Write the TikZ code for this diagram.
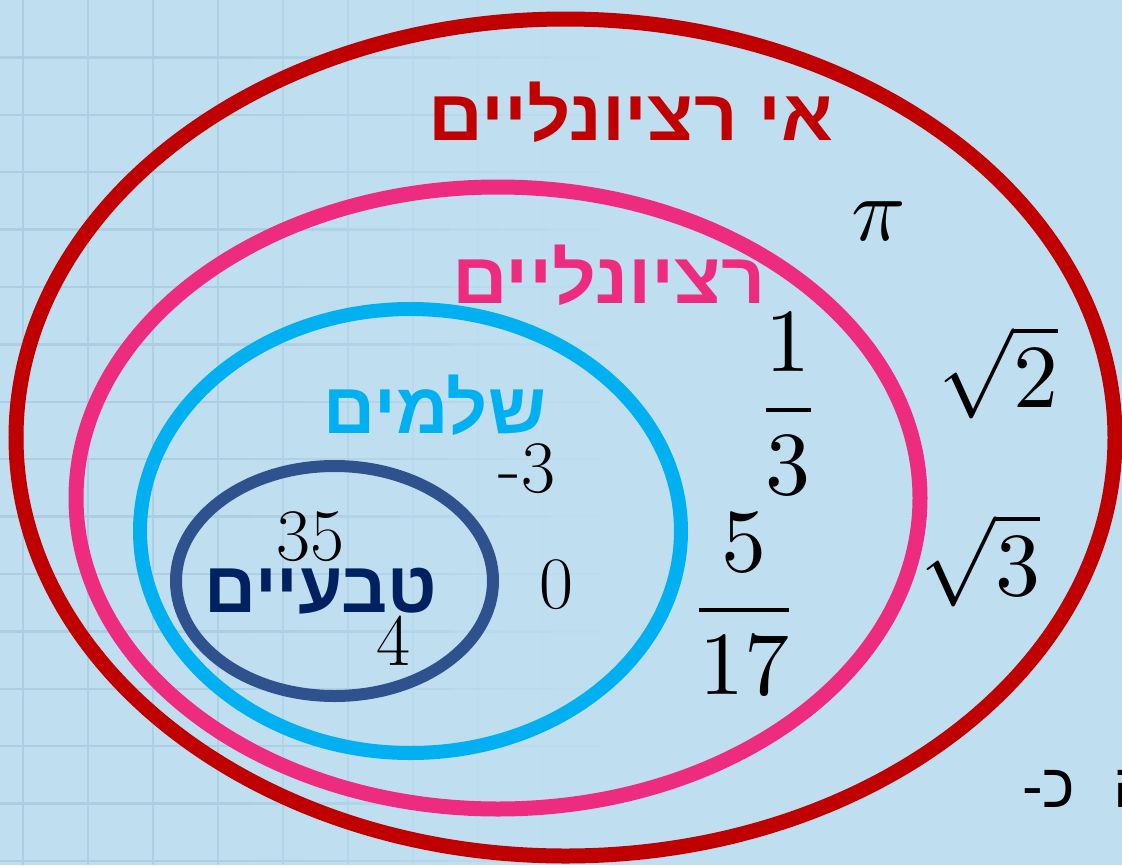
\documentclass[tikz,border=0pt]{standalone}
\usepackage{fontspec}
\newfontfamily\hebbold[Script=Hebrew]{Liberation Sans}
\newfontfamily\hebsans[Script=Hebrew]{Liberation Sans}
\TeXXeTstate=1

\definecolor{bgblue}{RGB}{191,223,241}
\definecolor{gridblue}{RGB}{171,206,227}
\definecolor{irred}{RGB}{192,0,0}
\definecolor{ratpink}{RGB}{238,44,127}
\definecolor{intcyan}{RGB}{0,176,240}
\definecolor{natblue}{RGB}{47,82,143}
\definecolor{natnavy}{RGB}{0,32,96}

\tikzset{
  setline/.style={line width=#1},
  setname/.style={font=\hebbold\bfseries\fontsize{72}{74}\selectfont, inner sep=0pt, anchor=base},
  num/.style={font=\fontsize{74}{80}\selectfont, inner sep=0pt, anchor=base},
  mathnum/.style={scale=9, inner sep=0pt, anchor=base},
}

\begin{document}
\begin{tikzpicture}[x=1pt,y=-1pt]
\useasboundingbox (0,0) rectangle (1122,865);
\clip (0,0) rectangle (1122,865);
\fill[bgblue] (0,0) rectangle (1122,865);

% faint grid, fading to the right
\foreach \k/\p in {0/100,1/95,2/90,3/80,4/65,5/50,6/30,7/15,8/5}
  \draw[gridblue!\p!bgblue, line width=2.5] (23+65*\k,0) -- (23+65*\k,865);
\foreach \j in {1,...,15}
  \foreach \s in {0,...,15} {
    \pgfmathtruncatemacro{\p}{max(0,min(100,100-(50*\s-200)/4))}
    \draw[gridblue!\p!bgblue, line width=2.5] (50*\s,57.4*\j) -- (50*\s+50,57.4*\j);
  }

% the four sets
\draw[irred, setline=15] (565.5,437.5) ellipse [x radius=549.5pt, y radius=418.5pt];
\draw[ratpink, setline=15] (498,498) ellipse [x radius=422pt, y radius=311pt];
\draw[intcyan, setline=14] (410.5,531) ellipse [x radius=270.5pt, y radius=222pt];
\draw[natblue, setline=12] (334.5,581) ellipse [x radius=158.5pt, y radius=115pt];

% names of the sets
\node[setname, text=irred, xscale=1.055] (irrlbl) at (631,140) {\beginR אי רציונליים\endR};
\node[setname, text=ratpink, xscale=1.07] (ratlbl) at (609,303) {\beginR רציונליים\endR};
\node[setname, text=intcyan] (intlbl) at (435,433) {\beginR שלמים\endR};
\node[setname, text=natnavy] (natlbl) at (321,612) {\beginR טבעיים\endR};

% members
\node[num] (n35) at (310,560) {35};
\node[num] (n4) at (393,665) {4};
\node[num] (nm3) at (527,492) {-3};
\node[num] (n0) at (556,608) {0};
\node[mathnum] (fthird) at (788,432.5) {$\displaystyle\frac{1}{3}$};
\node[mathnum] (ffive) at (744,632.5) {$\displaystyle\frac{5}{17}$};
\node[mathnum] (npi) at (879,240) {$\pi$};
\node[mathnum] (nsq2) at (998,407) {$\sqrt{2}$};
\node[mathnum] (nsq3) at (980,595) {$\sqrt{3}$};

\node[font=\hebsans\fontsize{62}{64}\selectfont, inner sep=0pt, anchor=base west] (note) at (1022,807) {\beginR ה\hspace{38pt}כ-\endR};
\end{tikzpicture}
\end{document}
